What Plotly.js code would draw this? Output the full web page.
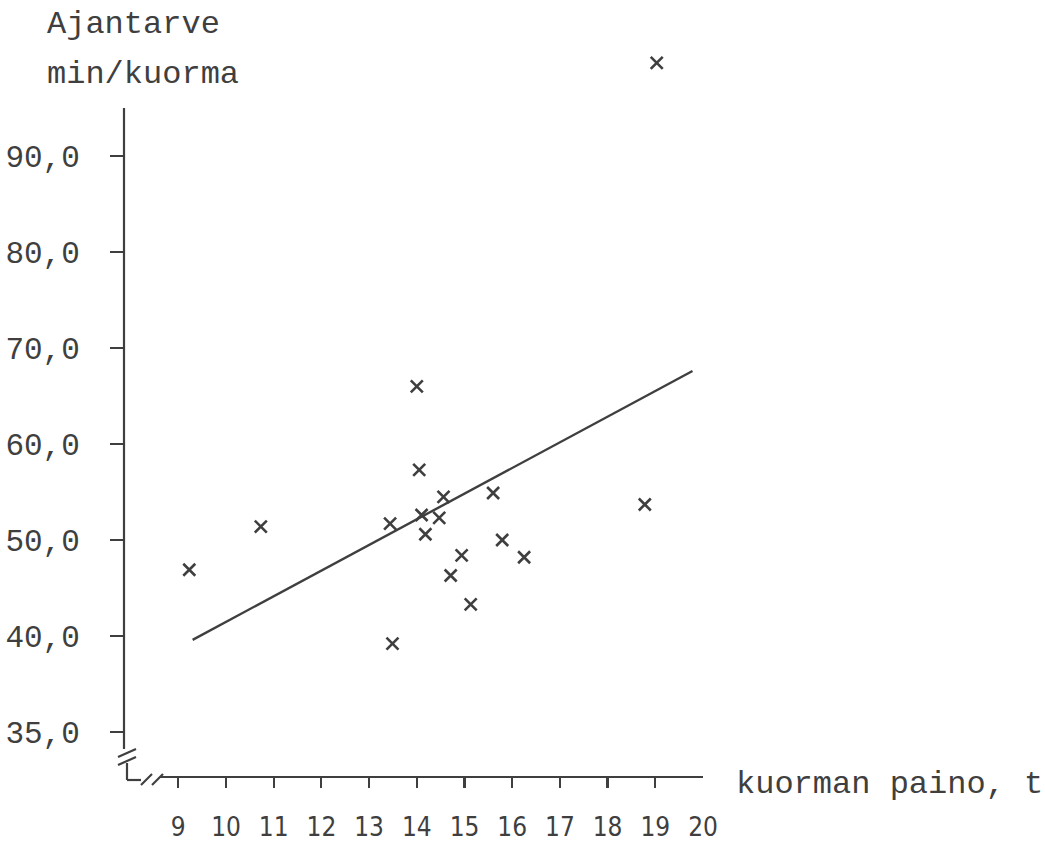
<!DOCTYPE html>
<html>
<head>
<meta charset="utf-8">
<script src="https://cdn.plot.ly/plotly-3.0.1.min.js"></script>
<style>
  html, body { margin: 0; padding: 0; background: #ffffff; }
  #chart { width: 1045px; height: 842px; }
</style>
</head>
<body>
<div id="chart"></div>
<script>
// ---- data ----
const loadWeight = [9.23, 10.73, 13.44, 14.00, 14.05, 14.10, 14.18, 14.56, 14.47, 14.94, 14.71, 15.13, 13.49, 15.60, 15.79, 16.25, 18.78, 19.03];
const timeNeed   = [46.9, 51.4, 51.7, 66.0, 57.3, 52.6, 50.6, 54.5, 52.3, 48.4, 46.3, 43.3, 39.2, 54.9, 50.0, 48.2, 53.7, 99.7];
const lineX = [9.3, 19.78];
const lineY = [39.6, 67.6];
const xTickVals = [9, 10, 11, 12, 13, 14, 15, 16, 17, 18, 19];
const xLabelVals = [9, 10, 11, 12, 13, 14, 15, 16, 17, 18, 19, 20];
const xLabelText = ['9', '10', '11', '12', '13', '14', '15', '16', '17', '18', '19', '20'];
// broken y axis: "35,0" is drawn one step below 40,0
const yTickVals = [30, 40, 50, 60, 70, 80, 90];
const yTickText = ['35,0', '40,0', '50,0', '60,0', '70,0', '80,0', '90,0'];

// ---- layout geometry (pixels) ----
const W = 1045, H = 842;
const L = 124, T = 40, R = 703, B = 777;
const PW = R - L, PH = B - T;
const X = p => (p - L) / PW;   // pixel -> paper
const Y = p => (B - p) / PH;

const ink = '#3f3f3f';
const mono = '"Liberation Mono", "Courier New", "DejaVu Sans Mono", monospace';
const narrow = '"Liberation Sans Narrow", "DejaVu Sans Condensed", "Roboto Condensed", "Liberation Sans", sans-serif';

function seg(x0, y0, x1, y1, w) {
  return {type: 'line', xref: 'paper', yref: 'paper',
          x0: X(x0), y0: Y(y0), x1: X(x1), y1: Y(y1),
          line: {color: ink, width: w || 2.2}, layer: 'above'};
}

const traces = [
  {
    x: lineX, y: lineY, type: 'scatter', mode: 'lines',
    xaxis: 'x2', yaxis: 'y',
    line: {color: ink, width: 2.4},
    hoverinfo: 'skip', showlegend: false
  },
  {
    x: loadWeight, y: timeNeed, type: 'scatter', mode: 'markers',
    xaxis: 'x', yaxis: 'y',
    marker: {symbol: 'x-thin-open', size: 12, color: ink, line: {color: ink, width: 2.6}},
    cliponaxis: false, showlegend: false
  }
];

const layout = {
  width: W, height: H,
  margin: {l: L, r: W - R, t: T, b: H - B, pad: 0},
  paper_bgcolor: '#ffffff', plot_bgcolor: 'rgba(0,0,0,0)',
  showlegend: false,
  xaxis: {
    range: [9 - (178.3 - L) / 47.7, 20],
    tickmode: 'array', tickvals: xTickVals,
    showticklabels: false,
    ticks: 'outside', ticklen: 10, tickwidth: 2.2, tickcolor: ink,
    showgrid: false, zeroline: false, showline: false, fixedrange: true
  },
  xaxis2: {
    overlaying: 'x', matches: 'x', anchor: 'y',
    tickmode: 'array', tickvals: xLabelVals, ticktext: xLabelText,
    ticks: '', ticklabelstandoff: 32,
    tickfont: {family: narrow, size: 26, color: ink},
    showgrid: false, zeroline: false, showline: false, fixedrange: true
  },
  yaxis: {
    range: [50 - (B - 540) / 9.6, 50 + (540 - T) / 9.6],
    tickmode: 'array', tickvals: yTickVals, ticktext: yTickText,
    ticks: 'outside', ticklen: 13, tickwidth: 2.2, tickcolor: ink,
    ticklabelstandoff: 24,
    tickfont: {family: mono, size: 31, color: ink},
    showgrid: false, zeroline: false, showline: false, fixedrange: true
  },
  shapes: [
    seg(124, 108, 124, 749),          // y axis line
    seg(118, 757, 136, 749),          // y break marks
    seg(118, 765, 136, 757),
    seg(127, 763, 127, 780),
    seg(127, 780, 141, 780),
    seg(141, 785, 152, 774),          // x break marks
    seg(152, 785, 163, 774),
    seg(160, 777, 703, 777)           // x axis line
  ],
  annotations: [
    {text: 'Ajantarve', xref: 'paper', yref: 'paper', x: X(45), y: Y(25),
     xanchor: 'left', yanchor: 'middle', showarrow: false,
     font: {family: mono, size: 32, color: ink}},
    {text: 'min/kuorma', xref: 'paper', yref: 'paper', x: X(45), y: Y(74),
     xanchor: 'left', yanchor: 'middle', showarrow: false,
     font: {family: mono, size: 32, color: ink}},
    {text: 'kuorman paino, t', xref: 'paper', yref: 'paper', x: X(734), y: Y(784),
     xanchor: 'left', yanchor: 'middle', showarrow: false,
     font: {family: mono, size: 32, color: ink}}
  ]
};

Plotly.newPlot('chart', traces, layout, {displayModeBar: false, staticPlot: true});
</script>
</body>
</html>
